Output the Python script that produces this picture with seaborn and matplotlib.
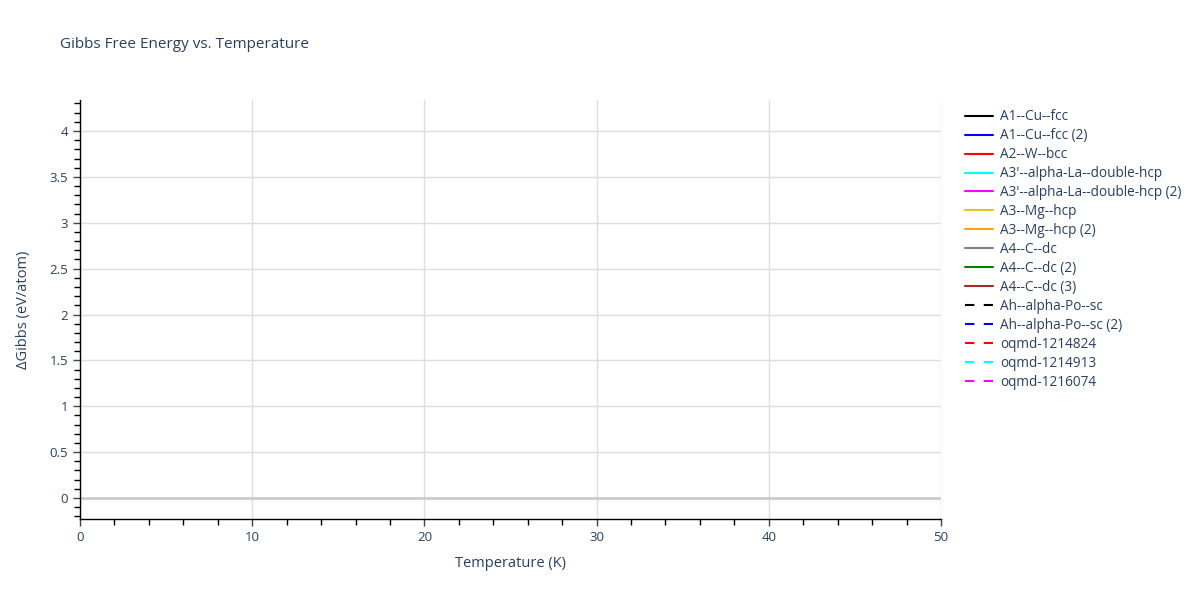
import matplotlib
matplotlib.use("Agg")
import matplotlib.pyplot as plt
from matplotlib.ticker import MultipleLocator, FuncFormatter
import seaborn as sns
import pandas as pd

# Series shown in the legend; the reference chart has no visible points in range
series_names = [
    "A1--Cu--fcc", "A1--Cu--fcc (2)", "A2--W--bcc",
    "A3'--alpha-La--double-hcp", "A3'--alpha-La--double-hcp (2)",
    "A3--Mg--hcp", "A3--Mg--hcp (2)",
    "A4--C--dc", "A4--C--dc (2)", "A4--C--dc (3)",
    "Ah--alpha-Po--sc", "Ah--alpha-Po--sc (2)",
    "oqmd-1214824", "oqmd-1214913", "oqmd-1216074",
]
series_colors = [
    "black", "blue", "red", "cyan", "magenta",
    "#e6c229", "orange", "grey", "green", "brown",
    "black", "blue", "red", "cyan", "magenta",
]
series_dashed = [False] * 10 + [True] * 5
temperature = {name: [] for name in series_names}
delta_gibbs = {name: [] for name in series_names}

x_range = (0, 50)
y_range = (-0.229, 4.338)

txt = "#2a3f5f"
sns.set_style("white")
plt.rcParams["font.family"] = ["Open Sans", "DejaVu Sans"]

fig = plt.figure(figsize=(12, 6), dpi=100)
ax = fig.add_axes([80 / 1200, 1 - 519 / 600, (941 - 80) / 1200, (519 - 100) / 600])

for name, color, dashed in zip(series_names, series_colors, series_dashed):
    df = pd.DataFrame({"T": temperature[name], "G": delta_gibbs[name]}, dtype=float)
    ax.plot(df["T"], df["G"], color=color, lw=1.5,
            linestyle=(0, (4.5, 4.5)) if dashed else "-", label=name)

ax.set_xlim(*x_range)
ax.set_ylim(*y_range)
ax.xaxis.set_major_locator(MultipleLocator(10))
ax.xaxis.set_minor_locator(MultipleLocator(2))
ax.yaxis.set_major_locator(MultipleLocator(0.5))
ax.yaxis.set_minor_locator(MultipleLocator(0.1))
ax.yaxis.set_major_formatter(FuncFormatter(lambda v, p: f"{v:g}"))

ax.grid(True, which="major", color="#dedede", lw=1)
ax.axhline(0, color="#cccccc", lw=2, zorder=1)
for side in ["top", "right"]:
    ax.spines[side].set_visible(False)
for side in ["left", "bottom"]:
    ax.spines[side].set_color("black")
    ax.spines[side].set_linewidth(1)
ax.tick_params(which="major", direction="out", length=5, width=1, colors="#444444",
               labelcolor=txt, labelsize=9.5, left=True, bottom=True)
ax.tick_params(which="minor", direction="out", length=4, width=1, colors="black",
               left=True, bottom=True)

ax.set_xlabel("Temperature (K)", color=txt, fontsize=10.5, labelpad=9)
ax.set_ylabel("ΔGibbs (eV/atom)", color=txt, fontsize=10.5, labelpad=13)
fig.text(60 / 1200, 1 - 45 / 600, "Gibbs Free Energy vs. Temperature",
         color=txt, fontsize=11, va="center", ha="left")

fig.legend(loc="upper left", bbox_to_anchor=(960 / 1200, 1 - 104 / 600),
           frameon=False, fontsize=9.8, labelcolor=txt, handlelength=2.05,
           handletextpad=0.5, labelspacing=0.29, borderaxespad=0)

fig.savefig("out.png", dpi=100)
